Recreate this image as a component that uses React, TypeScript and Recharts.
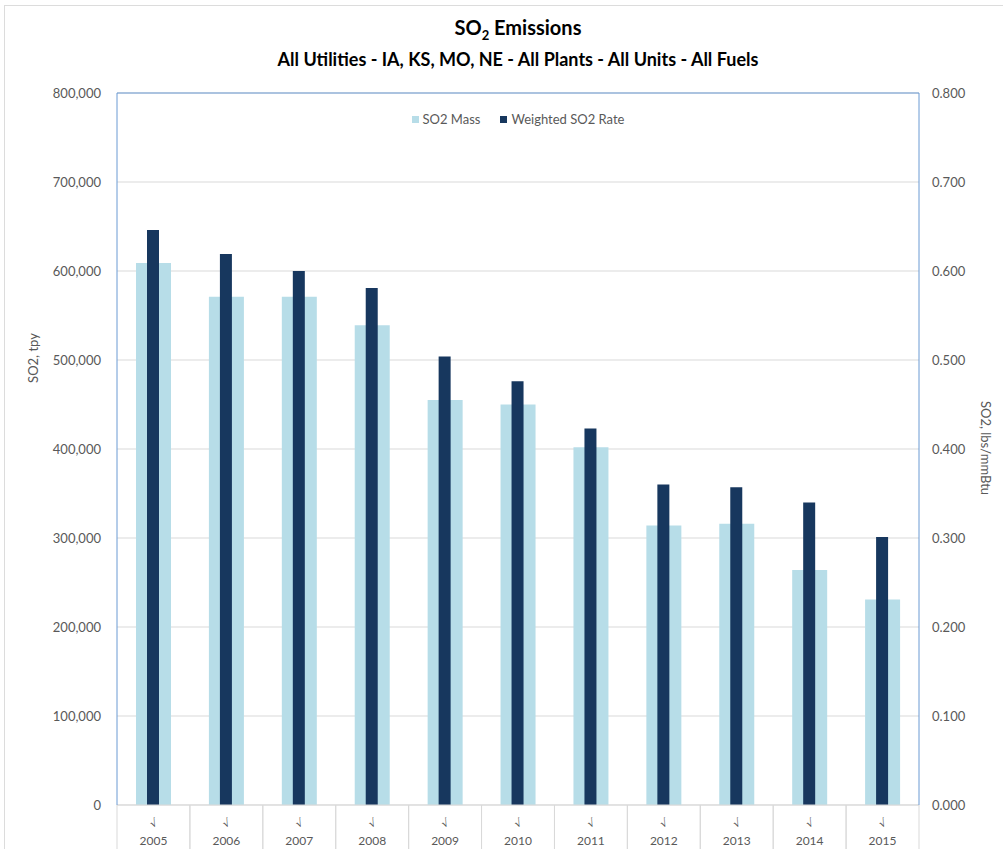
import React from 'react';
import { ComposedChart, Bar, XAxis, YAxis, CartesianGrid, Legend, ReferenceLine } from 'recharts';

const years = ['2005', '2006', '2007', '2008', '2009', '2010', '2011', '2012', '2013', '2014', '2015'];
const so2Mass = [609000, 571000, 571000, 539000, 455000, 450000, 402000, 314000, 316000, 264000, 231000];
const so2Rate = [0.646, 0.619, 0.6, 0.581, 0.504, 0.476, 0.423, 0.36, 0.357, 0.34, 0.301];
const massTicks = [0, 100000, 200000, 300000, 400000, 500000, 600000, 700000, 800000];
const rateTicks = [0, 0.1, 0.2, 0.3, 0.4, 0.5, 0.6, 0.7, 0.8];

const data = years.map((year, i) => ({ year, mass: so2Mass[i], rate: so2Rate[i] }));

const FONT = 'Lato, "Open Sans", sans-serif';
const GREY = '#595959';
const LIGHT = '#b7dde8';
const DARK = '#17375e';
const FRAME = '#6a9ad3';

const YearTick = (props: any) => {
  const { x, y, payload, width, visibleTicksCount } = props;
  const half = width / visibleTicksCount / 2;
  return (
    <g>
      <line x1={x - half} y1={y} x2={x - half} y2={y + 50} stroke="#d9d9d9" />
      <line x1={x + half} y1={y} x2={x + half} y2={y + 50} stroke="#d9d9d9" />
      <text x={x} y={y + 22} textAnchor="middle" fontSize={11} fill={GREY} fontFamily="DejaVu Sans"
        transform={`rotate(-25, ${x}, ${y + 18})`}>
        √
      </text>
      <text x={x} y={y + 40} textAnchor="middle" fontSize={12} fill={GREY} fontFamily={FONT}>
        {payload.value}
      </text>
    </g>
  );
};

const LegendContent = () => (
  <div style={{ display: 'flex', justifyContent: 'center', fontFamily: FONT, fontSize: 13, color: GREY }}>
    <span style={{ display: 'flex', alignItems: 'center', marginRight: 20 }}>
      <span style={{ width: 7, height: 7, background: LIGHT, marginRight: 4 }} />SO2 Mass
    </span>
    <span style={{ display: 'flex', alignItems: 'center' }}>
      <span style={{ width: 7, height: 7, background: DARK, marginRight: 4 }} />Weighted SO2 Rate
    </span>
  </div>
);

export default function App() {
  return (
    <div style={{ position: 'relative', width: 1003, height: 849, background: '#fff', overflow: 'hidden', fontFamily: FONT }}>
      <style>{`body{margin:0}`}</style>
      <div style={{ position: 'absolute', left: 4, top: 5, width: 1010, height: 860, border: '1px solid #dcdcdc' }} />
      <div style={{ position: 'absolute', top: 15, left: 117, width: 802, textAlign: 'center', fontWeight: 700, fontSize: 20, color: '#000' }}>
        SO<sub style={{ fontSize: 13 }}>2</sub> Emissions
      </div>
      <div style={{ position: 'absolute', top: 48, left: 117, width: 802, textAlign: 'center', fontWeight: 700, fontSize: 18, color: '#000' }}>
        All Utilities - IA, KS, MO, NE - All Plants - All Units - All Fuels
      </div>
      <div style={{ position: 'absolute', left: 33, top: 358, transform: 'translate(-50%, -50%) rotate(-90deg)', whiteSpace: 'nowrap', fontSize: 13, color: GREY }}>
        SO2, tpy
      </div>
      <div style={{ position: 'absolute', left: 986, top: 448, transform: 'translate(-50%, -50%) rotate(90deg)', whiteSpace: 'nowrap', fontSize: 13, color: GREY }}>
        SO2, lbs/mmBtu
      </div>
      <ComposedChart width={1003} height={849} data={data} margin={{ top: 93, right: 0, bottom: 0, left: 0 }}
        style={{ position: 'absolute', left: 0, top: 0 }}>
        <CartesianGrid xAxisId="a" yAxisId="left" vertical={false} stroke="#d9d9d9" />
        <XAxis xAxisId="a" dataKey="year" height={44} tickSize={0} tickMargin={0} interval={0}
          axisLine={{ stroke: '#d9d9d9' }} tickLine={false} tick={<YearTick />} />
        <XAxis xAxisId="b" dataKey="year" hide />
        <YAxis yAxisId="left" orientation="left" width={117} domain={[0, 800000]} ticks={massTicks}
          tickFormatter={(v: number) => v.toLocaleString('en-US')} tickSize={0} tickMargin={16}
          axisLine={{ stroke: FRAME }} tickLine={false}
          tick={{ fill: GREY, fontSize: 13, fontFamily: FONT }} />
        <YAxis yAxisId="right" orientation="right" width={84} domain={[0, 0.8]} ticks={rateTicks}
          tickFormatter={(v: number) => v.toFixed(3)} tickSize={0} tickMargin={13}
          axisLine={{ stroke: FRAME }} tickLine={false}
          tick={{ fill: GREY, fontSize: 13, fontFamily: FONT, textAnchor: 'start' }} />
        <ReferenceLine xAxisId="a" yAxisId="left" y={800000} stroke={FRAME} />
        <Legend verticalAlign="middle" layout="horizontal" content={<LegendContent />}
          wrapperStyle={{ top: 111, left: 117, width: 802 }} />
        <Bar name="SO2 Mass" dataKey="mass" xAxisId="a" yAxisId="left" fill={LIGHT} barSize={35} isAnimationActive={false} />
        <Bar name="Weighted SO2 Rate" dataKey="rate" xAxisId="b" yAxisId="right" fill={DARK} barSize={12} isAnimationActive={false} />
      </ComposedChart>
    </div>
  );
}
